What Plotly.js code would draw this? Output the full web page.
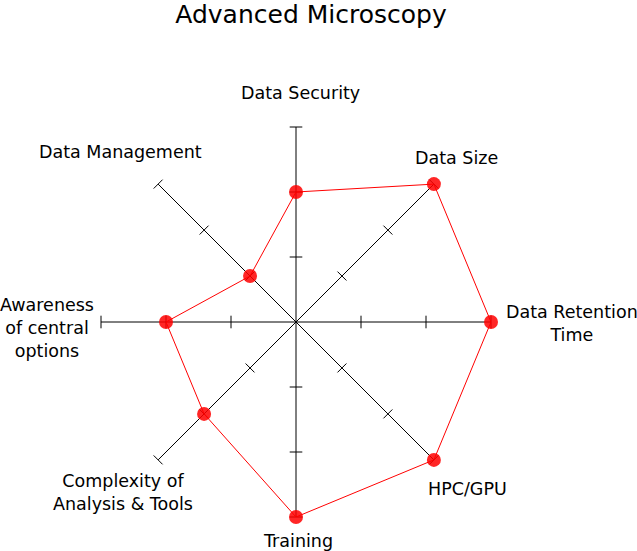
<!DOCTYPE html>
<html>
<head>
<meta charset="utf-8">
<script src="https://cdn.plot.ly/plotly-3.0.1.min.js"></script>
<style>html,body{margin:0;padding:0;background:#fff;}#chart{width:637px;height:551px;}</style>
</head>
<body>
<div id="chart"></div>
<script>
// Data
const categories = ["Data Security", "Data Size", "Data Retention Time", "HPC/GPU", "Training", "Complexity of Analysis & Tools", "Awareness of central options", "Data Management"];
const values = [2, 3, 3, 3, 3, 2, 2, 1];
const tickValues = [1, 2, 3];
const labelTexts = ["Data Security", "Data Size", "Data Retention<br>Time", "HPC/GPU", "Training", "Complexity of<br>Analysis & Tools", "Awareness<br>of central<br>options", "Data Management"];

const W = 637, H = 551;
// label anchor points (pixels)
const labelPos = [[300, 93], [456, 158], [572, 323], [467, 489], [298, 541], [123, 492], [47, 328], [120, 152]];

// tick marks perpendicular to each spoke
const tickR = [], tickTheta = [], tickAngle = [];
categories.forEach((c, i) => {
  tickValues.forEach(t => {
    tickR.push(t); tickTheta.push(c); tickAngle.push(i * 360 / categories.length);
  });
});

const traces = [
  {
    type: 'scatterpolar', mode: 'markers',
    r: tickR, theta: tickTheta,
    marker: {symbol: 'line-ew', size: 9, angle: tickAngle, color: '#000', line: {color: '#000', width: 1}},
    hoverinfo: 'skip', showlegend: false
  },
  {
    type: 'scatterpolar', mode: 'lines',
    r: values.concat([values[0]]), theta: categories.concat([categories[0]]),
    line: {color: '#ff0000', width: 1},
    hoverinfo: 'skip', showlegend: false
  },
  {
    type: 'scatterpolar', mode: 'markers',
    r: values, theta: categories,
    marker: {color: 'rgba(255,0,0,0.85)', size: 14, line: {width: 0}},
    cliponaxis: false,
    hoverinfo: 'skip', showlegend: false
  }
];

const annotations = labelTexts.map((t, i) => ({
  text: t, xref: 'paper', yref: 'paper',
  x: labelPos[i][0] / W, y: 1 - labelPos[i][1] / H,
  xanchor: 'center', yanchor: 'middle', showarrow: false,
  align: 'center',
  font: {family: 'DejaVu Sans', size: 17.5, color: '#000'}
}));

const layout = {
  width: W, height: H,
  margin: {l: 0, r: 0, t: 0, b: 0},
  paper_bgcolor: '#fff',
  font: {family: 'DejaVu Sans', color: '#000'},
  title: {text: 'Advanced Microscopy', x: 311 / W, xanchor: 'center', y: 1 - 14 / H, yanchor: 'middle', yref: 'container',
          font: {family: 'DejaVu Sans', size: 25, color: '#000'}},
  showlegend: false,
  polar: {
    domain: {x: [101 / W, 491 / W], y: [34 / H, 424 / H]},
    bgcolor: 'rgba(0,0,0,0)',
    radialaxis: {range: [0, 3], visible: false, showgrid: false},
    angularaxis: {
      type: 'category', categoryarray: categories, direction: 'clockwise', rotation: 90,
      showgrid: true, gridcolor: '#000', gridwidth: 1,
      showline: false, ticks: '', showticklabels: false
    }
  },
  annotations: annotations
};

Plotly.newPlot('chart', traces, layout, {staticPlot: true, displayModeBar: false});
</script>
</body>
</html>
